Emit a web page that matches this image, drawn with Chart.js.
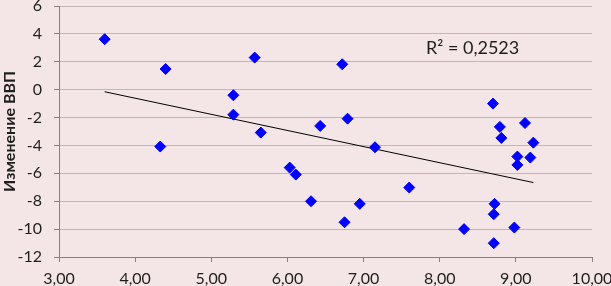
<!DOCTYPE html>
<html><head><meta charset="utf-8">
<script src="https://cdn.jsdelivr.net/npm/chart.js@4.4.1/dist/chart.umd.min.js"></script>
<style>html,body{margin:0;padding:0;background:#F4E6E6;}#c{display:block;}</style>
</head><body>
<canvas id="c" width="611" height="286"></canvas>
<script>
const xValues = [3.60,4.40,4.33,5.57,5.29,5.29,5.65,6.72,6.43,6.79,7.15,6.03,6.11,6.31,6.75,6.95,7.60,8.32,8.72,8.71,8.71,8.98,9.02,9.02,9.19,9.23,8.70,8.79,8.81,9.12];
const yValues = [3.62,1.48,-4.08,2.30,-0.40,-1.79,-3.08,1.82,-2.60,-2.08,-4.13,-5.59,-6.09,-8.00,-9.51,-8.19,-7.02,-10.00,-8.19,-8.93,-11.01,-9.89,-4.80,-5.40,-4.87,-3.80,-1.00,-2.67,-3.46,-2.39];
const xTicks = [3,4,5,6,7,8,9,10];
const yTicks = [-12,-10,-8,-6,-4,-2,0,2,4,6];
const yTitle = 'Изменение ВВП';
const r2Label = 'R² = 0,2523';
const r2Pos = {x: 7.82, y: 3.0};

const points = xValues.map((x,i)=>({x:x, y:yValues[i]}));
// linear regression trendline
const n = xValues.length;
const mx = xValues.reduce((a,b)=>a+b,0)/n, my = yValues.reduce((a,b)=>a+b,0)/n;
let sxy=0,sxx=0; for(let i=0;i<n;i++){sxy+=(xValues[i]-mx)*(yValues[i]-my);sxx+=(xValues[i]-mx)**2;}
const slope=sxy/sxx, icpt=my-slope*mx;
const xmin=Math.min(...xValues), xmax=Math.max(...xValues);
const trend=[{x:xmin,y:icpt+slope*xmin},{x:xmax,y:icpt+slope*xmax}];

const BG='#F4E6E6', GRID='#C3B6B6', AXIS='#8A7D7D', TXT='#1E1E1E';
const bgPlugin={id:'bg',beforeDraw(c){const x=c.ctx;x.save();x.fillStyle=BG;x.fillRect(0,0,c.width,c.height);x.restore();},
 afterDraw(c){const x=c.ctx;x.save();x.fillStyle=TXT;x.font='18px Lato';x.textBaseline='middle';x.textAlign='left';
  x.fillText(r2Label,c.scales.x.getPixelForValue(r2Pos.x),c.scales.y.getPixelForValue(r2Pos.y));x.restore();}};

new Chart(document.getElementById('c'),{
 type:'scatter',
 data:{datasets:[
  {type:'line',data:trend,borderColor:'#000',borderWidth:1,pointRadius:0,fill:false,order:2},
  {data:points,pointStyle:'rectRot',pointRadius:5.5,pointHoverRadius:5.5,backgroundColor:'#0000FF',borderColor:'#0000FF',borderWidth:1,order:1}
 ]},
 plugins:[bgPlugin],
 options:{
  responsive:false,animation:false,
  plugins:{legend:{display:false},tooltip:{enabled:false}},
  layout:{autoPadding:false,padding:{top:6,right:19,left:0,bottom:0}},
  scales:{
   x:{type:'linear',min:3,max:10,
     afterBuildTicks(s){s.ticks=xTicks.map(v=>({value:v}));},
     afterFit(s){s.height=29;s.paddingLeft=0;s.paddingRight=0;},
     border:{color:AXIS,width:1},
     grid:{drawOnChartArea:false,tickColor:AXIS,tickLength:5},
     ticks:{color:TXT,font:{family:'Lato',size:16},padding:7,maxRotation:0,callback:v=>v.toFixed(2).replace('.',',')}},
   y:{type:'linear',min:-12,max:6,
     afterBuildTicks(s){s.ticks=yTicks.map(v=>({value:v}));},
     afterFit(s){s.width=59;s.paddingTop=0;s.paddingBottom=0;},
     border:{color:AXIS,width:1},
     grid:{color:GRID,tickColor:AXIS,tickLength:5},
     title:{display:true,text:yTitle,color:TXT,font:{family:'Lato',size:16,weight:'bold'},padding:{top:0,bottom:0}},
     ticks:{color:TXT,font:{family:'Lato',size:16},padding:12,callback:v=>String(v)}}
  }
 }
});
</script>
</body></html>
